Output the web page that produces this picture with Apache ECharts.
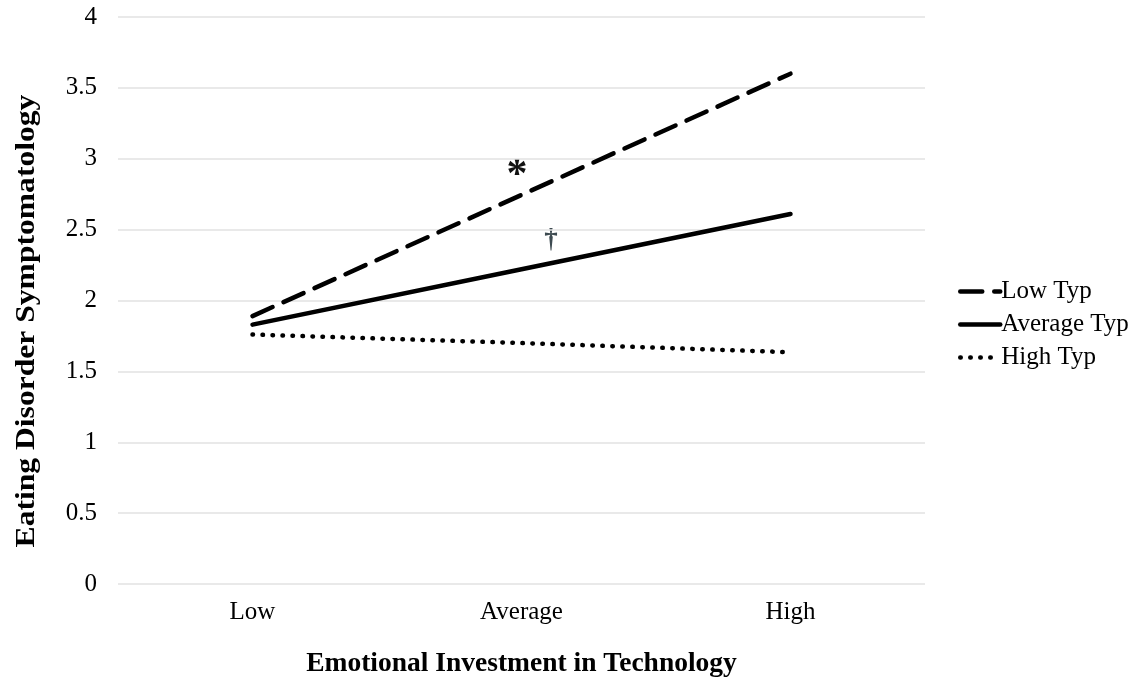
<!DOCTYPE html>
<html>
<head>
<meta charset="utf-8">
<script src="https://cdn.jsdelivr.net/npm/echarts@6/dist/echarts.min.js"></script>
<style>
  html, body { margin: 0; padding: 0; background: #fff; }
  #chart { width: 1142px; height: 681px; }
</style>
</head>
<body>
<div id="chart"></div>
<script>
// categories on the x axis
const categories = ['Low', 'Average', 'High'];
// simple slopes
const lowTyp = [1.89, 2.745, 3.60];
const avgTyp = [1.83, 2.22, 2.61];
const highTyp = [1.76, 1.70, 1.635];

const font = '"Liberation Serif", "Times New Roman", serif';

const chart = echarts.init(document.getElementById('chart'));

const option = {
  backgroundColor: '#fff',
  animation: false,
  textStyle: { fontFamily: font },
  grid: { left: 118, right: 217, top: 17, bottom: 97, outerBoundsMode: 'none' },
  legend: {
    orient: 'vertical',
    left: 953,
    top: 274,
    itemGap: 8,
    itemWidth: 40,
    itemHeight: 20,
    itemStyle: { opacity: 0 },
    lineStyle: { width: 4.5 },
    textStyle: { fontFamily: font, fontSize: 25, color: '#000', padding: [0, 0, 0, -4] },
    data: ['Low Typ', 'Average Typ', 'High Typ']
  },
  xAxis: {
    type: 'category',
    data: categories,
    boundaryGap: true,
    axisLine: { show: false },
    axisTick: { show: false },
    axisLabel: { fontFamily: font, fontSize: 25, color: '#000', margin: 16 },
    name: 'Emotional Investment in Technology',
    nameLocation: 'middle',
    nameGap: 66,
    nameMoveOverlap: false,
    nameTextStyle: { fontFamily: font, fontSize: 27.5, fontWeight: 'bold', color: '#000' }
  },
  yAxis: {
    type: 'value',
    min: 0,
    max: 4,
    interval: 0.5,
    axisLine: { show: false },
    axisTick: { show: false },
    axisLabel: { fontFamily: font, fontSize: 25, color: '#000', margin: 21 },
    splitLine: { lineStyle: { color: '#e2e2e2', width: 1.5 } }
  },
  series: [
    {
      name: 'Low Typ',
      type: 'line',
      data: lowTyp,
      symbol: 'none',
      itemStyle: { color: '#000' },
      lineStyle: { color: '#000', width: 4.5, type: [22, 12], cap: 'round' }
    },
    {
      name: 'Average Typ',
      type: 'line',
      data: avgTyp,
      symbol: 'none',
      itemStyle: { color: '#000' },
      lineStyle: { color: '#000', width: 4.5, cap: 'round' }
    },
    {
      name: 'High Typ',
      type: 'line',
      data: highTyp,
      symbol: 'none',
      itemStyle: { color: '#000' },
      lineStyle: { color: '#000', width: 4.5, type: [0.5, 9.5], cap: 'round' }
    }
  ],
  graphic: [
    {
      // y axis title, stretched like the reference
      type: 'text',
      x: 27,
      y: 321,
      rotation: Math.PI / 2,
      scaleX: 1.17,
      style: {
        text: 'Eating Disorder Symptomatology',
        fontFamily: font, fontSize: 27, fontWeight: 'bold', fill: '#000',
        align: 'center', verticalAlign: 'middle'
      }
    },
    {
      type: 'text',
      x: 517,
      y: 176,
      style: {
        text: '*', fontFamily: font, fontSize: 42, fontWeight: 'bold', fill: '#111',
        align: 'center', verticalAlign: 'middle'
      }
    },
    {
      type: 'text',
      x: 551,
      y: 240,
      style: {
        text: '†', fontFamily: font, fontSize: 27, fontWeight: 'bold', fill: '#3d4a50',
        align: 'center', verticalAlign: 'middle'
      }
    }
  ]
};

chart.setOption(option);
</script>
</body>
</html>
